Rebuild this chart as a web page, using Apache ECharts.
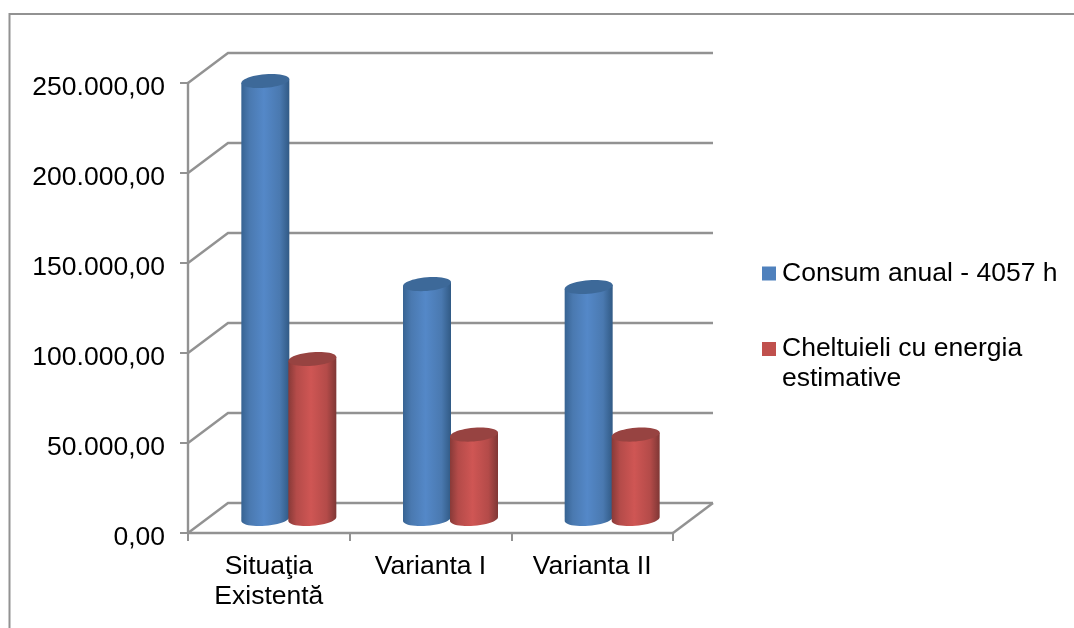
<!DOCTYPE html>
<html>
<head>
<meta charset="utf-8">
<style>html,body{margin:0;padding:0;background:#fff}#chart{width:1074px;height:628px}</style>
<script src="https://cdn.jsdelivr.net/npm/echarts@6/dist/echarts.min.js"></script>
</head>
<body>
<div id="chart"></div>
<script>
// Annual consumption and estimated energy cost per scenario
const categories = ['Situaţia\nExistentă', 'Varianta I', 'Varianta II'];
const consumName = 'Consum anual - 4057 h';
const cheltuieliName = 'Cheltuieli cu energia estimative';
const consumValues = [243300, 130500, 128900];
const cheltuieliValues = [88900, 46900, 46900];
const yTickValues = [0, 50000, 100000, 150000, 200000, 250000];
const yTickLabels = ['0,00', '50.000,00', '100.000,00', '150.000,00', '200.000,00', '250.000,00'];

const FONT = '"Liberation Sans", Arial, sans-serif';
const GRID_COLOR = '#929292';
const GRID_WIDTH = 2.4;
const DEPTH_X = 40, DEPTH_Y = 30;      // oblique offset of the back wall
const BAR_DX = 20, BAR_DY = 14;        // bars stand halfway into the depth
const HALF_W = 24;                     // cylinder radius on screen
const RIM_B = 6.8, RIM_K = 1.9;        // tilted ellipse of the cylinder ends

// Outline point of a cylinder end
const rim = (cx, cy, t) => [cx + HALF_W * Math.cos(t), cy + RIM_B * Math.sin(t) - RIM_K * Math.cos(t)];

function rimPoints(cx, cy, from, to, n) {
  const pts = [];
  for (let i = 0; i <= n; i++) pts.push(rim(cx, cy, from + (to - from) * i / n));
  return pts;
}

const chart = echarts.init(document.getElementById('chart'), null, { renderer: 'canvas' });

// Back wall and floor lines, from each value tick into the depth of the scene
function renderWall(params, api) {
  const sys = params.coordSys;
  const y = api.coord([0, api.value(0)])[1];
  const left = sys.x, right = sys.x + sys.width;
  const children = [{
    type: 'polyline',
    shape: { points: [[left, y], [left + DEPTH_X, y - DEPTH_Y], [right + DEPTH_X, y - DEPTH_Y]] },
    style: { stroke: GRID_COLOR, lineWidth: GRID_WIDTH, fill: 'none' }
  }];
  if (api.value(0) === 0) {
    children.push({
      type: 'line',
      shape: { x1: right, y1: y, x2: right + DEPTH_X, y2: y - DEPTH_Y },
      style: { stroke: GRID_COLOR, lineWidth: GRID_WIDTH }
    });
  }
  return { type: 'group', children };
}

// One cylinder; side is -1 for the left bar of a group, +1 for the right one
function cylinder(side, colors) {
  return function (params, api) {
    const top = api.coord([api.value(0), api.value(1)]);
    const base = api.coord([api.value(0), 0]);
    const cx = top[0] + BAR_DX + side * 23.5;
    const topY = top[1] - BAR_DY;
    const baseY = base[1] - BAR_DY;
    const body = [rim(cx, topY, Math.PI), rim(cx, topY, 0)].concat(rimPoints(cx, baseY, 0, Math.PI, 24));
    return {
      type: 'group',
      children: [{
        type: 'polygon',
        shape: { points: body },
        style: {
          fill: new echarts.graphic.LinearGradient(0, 0, 1, 0, [
            { offset: 0, color: colors.edgeL },
            { offset: 0.17, color: colors.shade },
            { offset: 0.47, color: colors.light },
            { offset: 0.8, color: colors.shade },
            { offset: 1, color: colors.edgeR }
          ])
        }
      }, {
        type: 'polygon',
        shape: { points: rimPoints(cx, topY, 0, Math.PI * 2, 48) },
        style: { fill: colors.cap }
      }]
    };
  };
}

const blueShades = { edgeL: '#376392', shade: '#4a79b0', light: '#5488c8', edgeR: '#315a85', cap: '#3d6999' };
const redShades = { edgeL: '#883a38', shade: '#b44b49', light: '#cf5654', edgeR: '#7f3735', cap: '#974341' };

chart.setOption({
  animation: false,
  backgroundColor: '#ffffff',
  textStyle: { fontFamily: FONT },
  graphic: [{
    type: 'polyline',
    shape: { points: [[9.5, 628], [9.5, 14], [1074, 14]] },
    style: { stroke: '#929292', lineWidth: 2, fill: 'none' },
    silent: true
  }],
  grid: { left: 188, right: 401, top: 83, bottom: 95, containLabel: false, outerBoundsMode: 'none' },
  xAxis: {
    type: 'category',
    data: categories,
    axisLine: { show: true, lineStyle: { color: GRID_COLOR, width: GRID_WIDTH } },
    axisTick: { show: true, length: 8, lineStyle: { color: GRID_COLOR, width: 2 } },
    axisLabel: { color: '#000', fontSize: 26.5, fontFamily: FONT, margin: 19, lineHeight: 30, interval: 0 }
  },
  yAxis: {
    type: 'value',
    min: 0,
    max: 250000,
    interval: 50000,
    splitLine: { show: false },
    axisLine: { show: true, lineStyle: { color: GRID_COLOR, width: GRID_WIDTH } },
    axisTick: { show: true, length: 8, lineStyle: { color: GRID_COLOR, width: 2 } },
    axisLabel: {
      margin: 23,
      formatter: v => '{v|' + yTickLabels[yTickValues.indexOf(v)] + '}',
      rich: { v: { color: '#000', fontSize: 26.5, fontFamily: FONT, padding: [9, 0, 0, 0] } }
    }
  },
  legend: [{
    data: [consumName],
    left: 757, top: 255,
    itemWidth: 14, itemHeight: 14,
    icon: 'rect',
    selectedMode: false,
    textStyle: { color: '#000', fontSize: 26.5, fontFamily: FONT, padding: [0, 0, 0, 1] }
  }, {
    data: [cheltuieliName],
    left: 757, top: 299,
    itemWidth: 14, itemHeight: 14,
    icon: 'rect',
    selectedMode: false,
    formatter: () => '\nCheltuieli cu energia\nestimative',
    textStyle: { color: '#000', fontSize: 26.5, lineHeight: 30, fontFamily: FONT, padding: [0, 0, 0, 1] }
  }],
  series: [{
    type: 'custom',
    name: 'wall',
    silent: true,
    renderItem: renderWall,
    encode: { y: 0 },
    data: yTickValues.map(v => [v]),
    z: 1
  }, {
    type: 'custom',
    name: consumName,
    itemStyle: { color: '#4F81BD' },
    renderItem: cylinder(-1, blueShades),
    encode: { x: 0, y: 1 },
    data: consumValues.map((v, i) => [i, v]),
    z: 2
  }, {
    type: 'custom',
    name: cheltuieliName,
    itemStyle: { color: '#C0504D' },
    renderItem: cylinder(1, redShades),
    encode: { x: 0, y: 1 },
    data: cheltuieliValues.map((v, i) => [i, v]),
    z: 3
  }]
});
</script>
</body>
</html>
